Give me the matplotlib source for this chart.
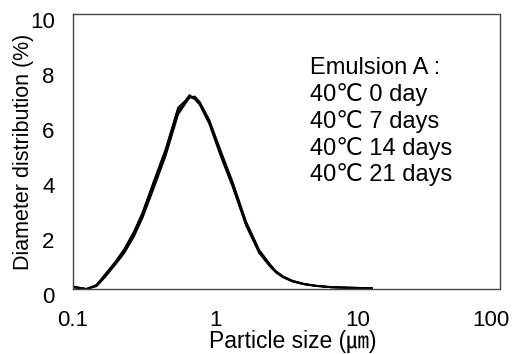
import matplotlib
matplotlib.use("Agg")
import matplotlib.pyplot as plt
from matplotlib.transforms import ScaledTranslation

# particle size (um) and diameter distribution (%) for the four storage times
size = [0.10, 0.11, 0.125, 0.147, 0.17, 0.20, 0.23, 0.27, 0.31, 0.37, 0.45, 0.55,
        0.62, 0.66, 0.72, 0.78, 0.91, 1.10, 1.33, 1.65, 2.04, 2.40, 2.67, 3.00,
        3.50, 4.20, 5.10, 6.60, 8.50, 10.5, 12.6]
day0 = [0.10, 0.05, 0.00, 0.15, 0.55, 1.00, 1.45, 2.10, 2.80, 3.90, 5.10, 6.60,
        6.85, 7.00, 6.90, 6.70, 6.00, 4.80, 3.70, 2.30, 1.30, 0.85, 0.60, 0.42,
        0.27, 0.17, 0.11, 0.06, 0.04, 0.04, 0.02]
day7 = [0.08, 0.04, 0.00, 0.12, 0.50, 0.95, 1.38, 2.00, 2.70, 3.78, 4.95, 6.45,
        6.80, 7.00, 6.95, 6.75, 6.10, 4.90, 3.80, 2.40, 1.38, 0.90, 0.63, 0.45,
        0.29, 0.18, 0.12, 0.07, 0.05, 0.04, 0.03]
day14 = [0.06, 0.03, 0.00, 0.10, 0.45, 0.90, 1.30, 1.92, 2.60, 3.65, 4.85, 6.35,
         6.75, 6.95, 7.00, 6.80, 6.15, 5.00, 3.88, 2.45, 1.42, 0.93, 0.65, 0.46,
         0.30, 0.19, 0.12, 0.07, 0.05, 0.04, 0.03]
day21 = [0.09, 0.05, 0.00, 0.14, 0.53, 0.98, 1.42, 2.06, 2.76, 3.86, 5.05, 6.55,
         6.85, 7.05, 6.92, 6.72, 6.05, 4.85, 3.75, 2.35, 1.34, 0.88, 0.62, 0.44,
         0.28, 0.18, 0.11, 0.06, 0.05, 0.04, 0.02]
series = [day0, day7, day14, day21]
legend_lines = ["Emulsion A :", "40℃ 0 day", "40℃ 7 days", "40℃ 14 days", "40℃ 21 days"]

plt.rcParams['font.family'] = ['Liberation Sans', 'DejaVu Sans', 'Noto Sans CJK KR']

fig = plt.figure(figsize=(5.13, 3.54), dpi=100)
ax = fig.add_axes([0.1417, 0.1836, 0.833, 0.777])

for s in series:
    ax.plot(size, s, color='black', lw=1.3)

ax.set_xscale('log')
ax.set_xlim(0.1, 100)
ax.set_ylim(0, 10)
ax.set_xticks([0.1, 1, 10, 100])
ax.set_xticklabels(['0.1', '1', '10', '100'])
ax.set_yticks([0, 2, 4, 6, 8, 10])
ax.minorticks_off()
ax.tick_params(axis='both', length=0, labelsize=16)
ax.tick_params(axis='x', pad=15)
ax.tick_params(axis='y', pad=13)

# nudge tick labels like the original scan
for lab in ax.get_yticklabels():
    lab.set_transform(lab.get_transform() + ScaledTranslation(0, -6 / 100, fig.dpi_scale_trans))
last = ax.get_xticklabels()[-1]
last.set_transform(last.get_transform() + ScaledTranslation(-9 / 100, 0, fig.dpi_scale_trans))

for sp in ax.spines.values():
    sp.set_linestyle((0, (1, 1)))
    sp.set_linewidth(1.0)
    sp.set_color('#444444')

fig.text(0.571, 0.016, 'Particle size (㎛)', fontsize=16.5, ha='center', va='baseline',
         family=['Liberation Sans', 'Noto Sans CJK KR'])
ax.set_ylabel('Diameter distribution (%)', fontsize=15.5, labelpad=-3)

for i, line in enumerate(legend_lines):
    ax.text(0.555, 0.804 - i * 0.0973, line, transform=ax.transAxes,
            fontsize=17, va='center', ha='left')

fig.savefig('out.png', dpi=100)
